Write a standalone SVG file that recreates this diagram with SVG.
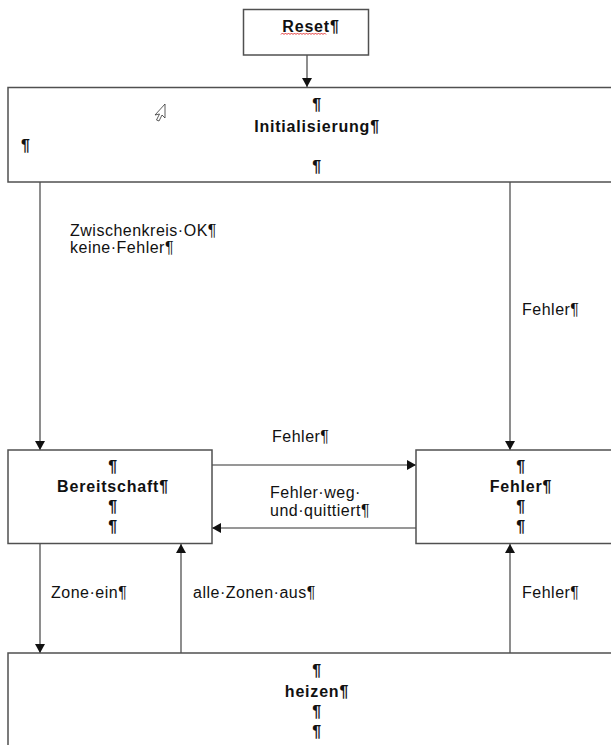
<svg xmlns="http://www.w3.org/2000/svg" width="611" height="745" viewBox="0 0 611 745">
<style>
.box{fill:#fff;stroke:#505050;stroke-width:1.5}
.con{fill:none;stroke:#303030;stroke-width:1.1}
.t{font-family:"Liberation Sans",Arial,sans-serif;font-size:16px;fill:#111;letter-spacing:0.5px}
.b{font-family:"Liberation Sans",Arial,sans-serif;font-size:16px;font-weight:bold;fill:#111;letter-spacing:0.8px;text-anchor:middle}
</style>
<defs>
<marker id="ah" markerUnits="userSpaceOnUse" markerWidth="10" markerHeight="10" refX="9" refY="5" orient="auto">
<path d="M0,0 L9,5 L0,10 z" fill="#111"/>
</marker>
</defs>
<rect width="611" height="745" fill="#fff"/>
<g id="connectors">
<line class="con" x1="307" y1="55" x2="307" y2="87" marker-end="url(#ah)"/>
<line class="con" x1="40" y1="182" x2="40" y2="450" marker-end="url(#ah)"/>
<line class="con" x1="510" y1="182" x2="510" y2="450" marker-end="url(#ah)"/>
<line class="con" x1="212" y1="465" x2="416" y2="465" marker-end="url(#ah)"/>
<line class="con" x1="416" y1="528" x2="212" y2="528" marker-end="url(#ah)"/>
<line class="con" x1="40" y1="544" x2="40" y2="653" marker-end="url(#ah)"/>
<line class="con" x1="181" y1="653" x2="181" y2="544" marker-end="url(#ah)"/>
<line class="con" x1="510" y1="653" x2="510" y2="544" marker-end="url(#ah)"/>
<text class="t" x="70" y="236">Zwischenkreis·OK¶</text>
<text class="t" x="70" y="253">keine·Fehler¶</text>
<text class="t" x="522" y="315">Fehler¶</text>
<text class="t" x="272" y="442">Fehler¶</text>
<text class="t" x="270" y="498">Fehler·weg·</text>
<text class="t" x="270" y="516">und·quittiert¶</text>
<text class="t" x="51" y="598">Zone·ein¶</text>
<text class="t" x="193" y="598">alle·Zonen·aus¶</text>
<text class="t" x="522" y="598">Fehler¶</text>
</g>
<g id="reset">
<rect class="box" x="243.5" y="9.5" width="125" height="45.5"/>
<text class="b" x="311" y="32">Reset¶</text>
<path d="M281,34.5 l1.5,-1.5 l1.5,1.5 l1.5,-1.5 l1.5,1.5 l1.5,-1.5 l1.5,1.5 l1.5,-1.5 l1.5,1.5 l1.5,-1.5 l1.5,1.5 l1.5,-1.5 l1.5,1.5 l1.5,-1.5 l1.5,1.5 l1.5,-1.5 l1.5,1.5 l1.5,-1.5 l1.5,1.5 l1.5,-1.5 l1.5,1.5 l1.5,-1.5 l1.5,1.5 l1.5,-1.5 l1.5,1.5 l1.5,-1.5 l1.5,1.5 l1.5,-1.5 l1.5,1.5 l1.5,-1.5 l1.5,1.5" fill="none" stroke="#e02020" stroke-width="0.9"/>
</g>
<g id="initialisierung">
<rect class="box" x="8" y="87.5" width="610" height="94.5"/>
<text class="b" x="317" y="110">¶</text>
<text class="b" x="317" y="132">Initialisierung¶</text>
<text class="b" x="21" y="151" style="text-anchor:start">¶</text>
<text class="b" x="317" y="172">¶</text>
<polygon points="165,104 165,118 162,115 159,121 156.5,120 159.5,114 155,115" fill="#fff" stroke="#333" stroke-width="0.8" stroke-linejoin="round"/>
</g>
<g id="bereitschaft">
<rect class="box" x="8" y="450" width="204" height="93.5"/>
<text class="b" x="113" y="472">¶</text>
<text class="b" x="113" y="492">Bereitschaft¶</text>
<text class="b" x="113" y="512">¶</text>
<text class="b" x="113" y="532">¶</text>
</g>
<g id="fehler">
<rect class="box" x="416" y="450" width="202" height="93.5"/>
<text class="b" x="521" y="472">¶</text>
<text class="b" x="521" y="492">Fehler¶</text>
<text class="b" x="521" y="512">¶</text>
<text class="b" x="521" y="532">¶</text>
</g>
<g id="heizen">
<rect class="box" x="8" y="653" width="610" height="100"/>
<text class="b" x="317" y="676">¶</text>
<text class="b" x="317" y="697">heizen¶</text>
<text class="b" x="317" y="717">¶</text>
<text class="b" x="317" y="737">¶</text>
</g>
</svg>
